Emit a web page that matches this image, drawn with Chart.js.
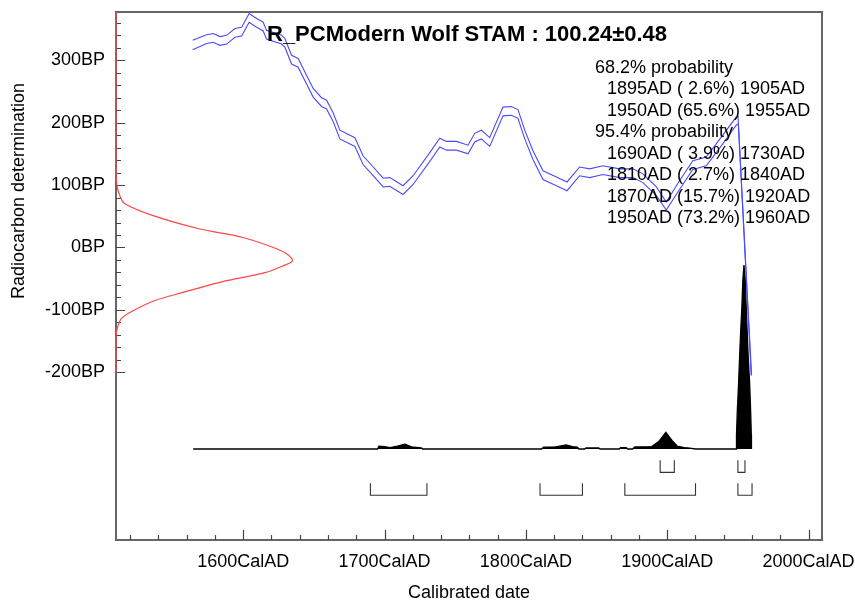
<!DOCTYPE html>
<html>
<head>
<meta charset="utf-8">
<script src="https://cdn.jsdelivr.net/npm/chart.js@4"></script>
<style>
  body { margin: 0; background: #fff; }
  #wrap { width: 855px; height: 601px; position: relative; }
</style>
</head>
<body>
<div id="wrap"><canvas id="cal-chart"></canvas></div>
<script>
// calibration curve (upper / lower 1 sigma), years AD and BP
let curveYears = [1564.2, 1574.1, 1578.8, 1583.5, 1588.3, 1594.1, 1598.9, 1604.2, 1609.5, 1614.1, 1616.5, 1627.1, 1629.5, 1634.2, 1638.9, 1642.4, 1649.5, 1655.4, 1659.0, 1663.6, 1668.4, 1679.0, 1684.8, 1689.6, 1699.0, 1703.7, 1713.1, 1720.2, 1732.0, 1739.1, 1743.8, 1750.9, 1759.1, 1763.8, 1768.5, 1774.4, 1783.8, 1789.7, 1794.4, 1799.2, 1805.0, 1812.1, 1821.6, 1829.1, 1838.0, 1845.1, 1854.5, 1866.3, 1875.7, 1882.8, 1892.3, 1899.3, 1908.7, 1918.1, 1927.6, 1939.3, 1948.8, 1950.1, 1959.4];
let curveUpper = [332, 341, 343, 338, 340, 351, 353, 375, 367, 361, 348, 340, 335, 308, 303, 287, 255, 240, 236, 216, 188, 176, 147, 135, 111, 112, 99, 115, 152, 175, 170, 170, 164, 183, 188, 176, 225, 226, 221, 188, 155, 123, 113, 105, 129, 126, 131, 126, 126, 118, 97, 73, 107, 139, 145, 180, 209, 210, -205];
let curveLowerYears = [1564.2, 1574.1, 1578.8, 1583.5, 1588.3, 1594.1, 1598.9, 1604.2, 1609.5, 1614.1, 1616.5, 1627.1, 1629.5, 1634.2, 1638.9, 1642.4, 1649.5, 1655.4, 1659.0, 1663.6, 1668.4, 1679.0, 1684.8, 1689.6, 1699.0, 1703.7, 1713.1, 1720.2, 1732.0, 1739.1, 1743.8, 1750.9, 1759.1, 1763.8, 1768.5, 1774.4, 1783.8, 1789.7, 1794.4, 1799.2, 1805.0, 1812.1, 1821.6, 1829.1, 1838.0, 1845.1, 1854.5, 1866.3, 1875.7, 1882.8, 1892.3, 1899.3, 1908.7, 1918.1, 1927.6, 1939.3, 1948.8, 1950.3, 1959.7];
let curveLower = [317, 327, 329, 324, 326, 337, 339, 361, 353, 347, 334, 326, 321, 294, 289, 273, 241, 226, 222, 202, 174, 162, 133, 121, 97, 98, 85, 101, 138, 161, 156, 156, 150, 169, 174, 162, 211, 212, 207, 174, 141, 109, 99, 91, 115, 112, 117, 112, 112, 104, 83, 60, 93, 125, 131, 166, 196, 198, -205];

// radiocarbon determination (BP vs relative density)
let measBP = [377, 120, 100, 82, 70, 51, 30, 16, -2, -11, -20, -25, -29, -40, -55, -72, -85, -101, -114, -133, -150, -201];
let measDensity = [0, 0, 0.005, 0.023, 0.05, 0.21, 0.47, 0.72, 0.91, 0.97, 1.0, 0.985, 0.95, 0.85, 0.60, 0.38, 0.22, 0.10, 0.03, 0.004, 0, 0];

// calibrated date distribution (relative probability)
let calDates = [1564.6, 1695.0, 1696.0, 1700.0, 1704.0, 1709.0, 1714.5, 1719.0, 1726.0, 1727.0, 1811.0, 1812.5, 1821.0, 1828.5, 1833.0, 1836.5, 1837.5, 1841.5, 1842.5, 1851.5, 1852.5, 1866.0, 1867.0, 1871.0, 1872.0, 1875.5, 1877.0, 1889.0, 1894.0, 1899.0, 1903.5, 1907.0, 1912.0, 1916.0, 1920.0, 1948.8, 1949.0, 1949.6, 1950.5, 1951.2, 1951.9, 1952.8, 1953.5, 1954.3, 1955.2, 1955.9, 1956.6, 1957.3, 1958.3, 1959.0, 1959.5, 1959.6];
let calProb = [0, 0, 0.015, 0.013, 0.008, 0.015, 0.026, 0.012, 0.006, 0, 0, 0.010, 0.012, 0.022, 0.013, 0.010, 0, 0, 0.006, 0.006, 0, 0, 0.007, 0.007, 0, 0, 0.011, 0.013, 0.04, 0.091, 0.045, 0.016, 0.008, 0.005, 0, 0, 0.076, 0.21, 0.36, 0.50, 0.63, 0.77, 0.92, 1.0, 0.92, 0.77, 0.63, 0.50, 0.36, 0.21, 0.076, 0];

// ranges [from, to, percent]
let range68 = [[1895, 1905, 2.6], [1950, 1955, 65.6]];
let range95 = [[1690, 1730, 3.9], [1810, 1840, 2.7], [1870, 1920, 15.7], [1950, 1960, 73.2]];

let titleText = 'R_PCModern Wolf STAM : 100.24±0.48';
let xTicks = [];
for (let v = 1520; v <= 2000; v += 20) xTicks.push(v);
let yTicks = [];
for (let v = -200; v <= 360; v += 20) yTicks.push(v);

const FONT = '"Liberation Sans", Arial, sans-serif';

function pts(xs, ys) {
  return xs.map((x, i) => ({ x: x, y: ys[i] }));
}

function fmtRange(r) {
  return r[0] + 'AD (' + r[2].toFixed(1).padStart(4, ' ') + '%) ' + r[1] + 'AD';
}

// bracket rows, in BP units of the y axis
let row68 = [-341, -360.5];
let row95 = [-378, -397];

let my_datasets = [];
my_datasets.push({
  data: pts(curveYears, curveUpper), borderColor: '#4a4aff', borderWidth: 1.1
});
my_datasets.push({
  data: pts(curveLowerYears, curveLower), borderColor: '#4a4aff', borderWidth: 1.1
});
my_datasets.push({
  data: measBP.map((b, i) => ({ x: measDensity[i], y: b })),
  xAxisID: 'x2', borderColor: '#ff4545', borderWidth: 1.2, tension: 0.3, clip: 4
});
my_datasets.push({
  data: pts(calDates, calProb), yAxisID: 'y2',
  borderColor: '#000', borderWidth: 1.3, backgroundColor: '#000', fill: 'origin'
});
range68.forEach(r => {
  my_datasets.push({
    data: [{x: r[0], y: row68[0]}, {x: r[0], y: row68[1]}, {x: r[1], y: row68[1]}, {x: r[1], y: row68[0]}],
    borderColor: '#333', borderWidth: 1.1
  });
});
range95.forEach(r => {
  my_datasets.push({
    data: [{x: r[0], y: row95[0]}, {x: r[0], y: row95[1]}, {x: r[1], y: row95[1]}, {x: r[1], y: row95[0]}],
    borderColor: '#333', borderWidth: 1.1
  });
});
my_datasets.forEach(d => { d.showLine = true; d.pointRadius = 0; if (d.tension === undefined) d.tension = 0; });

// frame and inward tick marks
const framePlugin = {
  id: 'frame',
  beforeDatasetsDraw(chart) {
    const { ctx, chartArea: a, scales } = chart;
    ctx.save();
    ctx.strokeStyle = '#666';
    ctx.lineWidth = 2;
    ctx.strokeRect(a.left, a.top, a.right - a.left, a.bottom - a.top);
    ctx.strokeStyle = '#444';
    ctx.lineWidth = 1.2;
    ctx.beginPath();
    scales.x.ticks.forEach(t => {
      let px = Math.round(scales.x.getPixelForValue(t.value)) + 0.5;
      let len = t.value % 100 === 0 ? 10 : 5;
      ctx.moveTo(px, a.bottom); ctx.lineTo(px, a.bottom - len);
    });
    scales.y.ticks.forEach(t => {
      let py = Math.round(scales.y.getPixelForValue(t.value)) + 0.5;
      let len = t.value % 100 === 0 ? 9 : 5;
      ctx.moveTo(a.left, py); ctx.lineTo(a.left + len, py);
    });
    ctx.stroke();
    ctx.restore();
  },
  afterDraw(chart) {
    const { ctx, chartArea: a } = chart;
    ctx.save();
    ctx.fillStyle = '#000';
    ctx.textBaseline = 'middle';
    ctx.textAlign = 'left';
    ctx.font = 'bold 22px ' + FONT;
    ctx.fillText(titleText, 267, 35);

    ctx.font = '18px ' + FONT;
    let lines = [];
    lines.push(['68.2% probability', 595]);
    range68.forEach(r => lines.push([fmtRange(r), 607]));
    lines.push(['95.4% probability', 595]);
    range95.forEach(r => lines.push([fmtRange(r), 607]));
    lines.forEach((l, i) => ctx.fillText(l[0], l[1], 68 + i * 21.5));

    // axis titles
    ctx.textAlign = 'center';
    ctx.fillText('Calibrated date', (a.left + a.right) / 2, 593);
    ctx.translate(19, 191);
    ctx.rotate(-Math.PI / 2);
    ctx.fillText('Radiocarbon determination', 0, 0);
    ctx.restore();
  }
};

let myChart = new Chart(document.getElementById('cal-chart').getContext('2d'), {
  type: 'scatter',
  data: { datasets: my_datasets },
  options: {
    responsive: true,
    maintainAspectRatio: false,
    animation: false,
    layout: { padding: { top: 12, right: 33, left: 0, bottom: 0 } },
    plugins: { legend: { display: false }, tooltip: { enabled: false } },
    scales: {
      x: {
        type: 'linear', position: 'bottom', min: 1510, max: 2009.5,
        grid: { display: false, drawTicks: false }, border: { display: false },
        afterBuildTicks: s => { s.ticks = xTicks.map(v => ({ value: v })); },
        afterFit: s => { s.height = 61; s.paddingLeft = 0; s.paddingRight = 0; },
        ticks: {
          autoSkip: false, maxRotation: 0, padding: 11, color: '#000',
          font: { family: FONT, size: 18 },
          callback: v => (v % 100 === 0 ? v + 'CalAD' : '')
        }
      },
      y: {
        type: 'linear', position: 'left', min: -468.8, max: 377.4,
        grid: { display: false, drawTicks: false }, border: { display: false },
        afterBuildTicks: s => { s.ticks = yTicks.map(v => ({ value: v })); },
        afterFit: s => { s.width = 116; s.paddingTop = 0; s.paddingBottom = 0; },
        ticks: {
          autoSkip: false, padding: 11, color: '#000',
          font: { family: FONT, size: 18 },
          callback: v => (v % 100 === 0 ? v + 'BP' : '')
        }
      },
      x2: { type: 'linear', display: false, min: 0, max: 4 },
      y2: { type: 'linear', display: false, min: -0.4946, max: 2.375 }
    }
  },
  plugins: [framePlugin]
});
</script>
</body>
</html>
